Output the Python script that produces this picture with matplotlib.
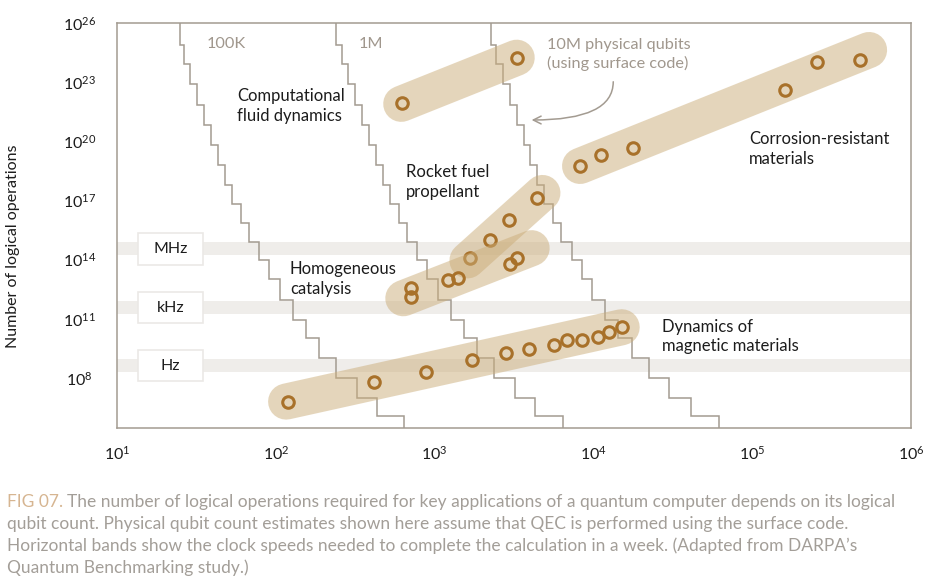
import matplotlib
matplotlib.use("Agg")
import matplotlib.pyplot as plt
import numpy as np
from matplotlib.patches import Rectangle
from matplotlib.transforms import blended_transform_factory

plt.rcParams["font.family"] = ["Lato", "DejaVu Sans"]
plt.rcParams["mathtext.fontset"] = "custom"
plt.rcParams["mathtext.rm"] = "Lato"
plt.rcParams["mathtext.it"] = "Lato:italic"
plt.rcParams["mathtext.bf"] = "Lato:bold"

# colours
LINE = "#a39b91"
CAPSULE = "#cbad79"
RING = "#a8712a"
BAND = "#efedea"
INK = "#1c1c1c"
GREY_TEXT = "#a0978d"

# log10(logical operations) where each staircase steps to the next code distance
step_ops_log = [24.9, 23.9, 22.9, 21.85, 20.85, 19.8, 18.8, 17.8, 16.8, 15.85,
                14.9, 14.0, 13.0, 11.95, 10.95, 10.0, 9.0, 8.0, 7.0, 6.05]

# log10(logical qubits) available on each step, per physical-qubit budget
qubits_100k_log = [1.397, 1.419, 1.460, 1.504, 1.548, 1.592, 1.633, 1.677, 1.724, 1.779, 1.829,
                   1.896, 1.959, 2.026, 2.106, 2.190, 2.274, 2.379, 2.509, 2.639, 2.807]
qubits_1m_log = [2.380, 2.414, 2.455, 2.499, 2.543, 2.587, 2.628, 2.672, 2.719, 2.774, 2.824,
                 2.891, 2.954, 3.021, 3.101, 3.185, 3.269, 3.374, 3.504, 3.634, 3.808]
qubits_10m_log = [3.355, 3.387, 3.428, 3.472, 3.516, 3.560, 3.601, 3.645, 3.692, 3.747, 3.797,
                  3.864, 3.927, 3.994, 4.074, 4.158, 4.242, 4.347, 4.477, 4.612, 4.790]

# clock-speed bands (log10 operations in one week)
band_names = ["MHz", "kHz", "Hz"]
band_centers_log = [14.54, 11.56, 8.62]

# applications: log10(logical qubits), log10(logical operations)
cfd_x = [2.797, 3.517]
cfd_y = [21.93, 24.24]
corrosion_x = [3.916, 4.046, 4.247, 5.207, 5.406, 5.679]
corrosion_y = [18.75, 19.31, 19.65, 22.60, 24.04, 24.12]
rocket_x = [3.223, 3.349, 3.467, 3.643]
rocket_y = [14.07, 15.00, 16.01, 17.11]
catalysis_x = [2.849, 2.849, 3.086, 3.145, 3.475, 3.517]
catalysis_y = [12.55, 12.09, 12.97, 13.08, 13.78, 14.07]
magnetic_x = [2.075, 2.618, 2.944, 3.234, 3.450, 3.596, 3.752, 3.832, 3.930, 4.027, 4.100, 4.178]
magnetic_y = [6.80, 7.81, 8.29, 8.91, 9.25, 9.47, 9.67, 9.92, 9.92, 10.09, 10.32, 10.57]

# extent of each highlighted range (log10 start/end in x and y)
cfd_range_x, cfd_range_y = [2.790, 3.517], [21.90, 24.24]
corrosion_range_x, corrosion_range_y = [3.916, 5.736], [18.75, 24.63]
rocket_range_x, rocket_range_y = [3.207, 3.679], [13.96, 17.38]
catalysis_range_x, catalysis_range_y = [2.803, 3.611], [12.04, 14.58]
magnetic_range_x, magnetic_range_y = [2.065, 4.178], [6.80, 10.57]

Y_MIN_LOG = 5.46
Y_MAX_LOG = 26.0


def p10(v):
    return np.power(10.0, v)


def staircase(ax, qubits_log):
    """x is logical qubits, piecewise constant in number of operations."""
    bounds = [Y_MAX_LOG] + step_ops_log + [Y_MIN_LOG]
    xs, ys = [], []
    for i, q in enumerate(qubits_log):
        xs += [p10(q), p10(q)]
        ys += [p10(bounds[i]), p10(bounds[i + 1])]
    ax.plot(xs, ys, color=LINE, lw=1.1, zorder=2, solid_joinstyle="miter")


def application(ax, lx, ly, rx, ry, z):
    ax.plot(p10(np.array(rx)), p10(np.array(ry)), color=CAPSULE, alpha=0.5,
            lw=26, solid_capstyle="round", zorder=z)
    ax.plot(p10(np.array(lx)), p10(np.array(ly)), "o", mfc="none", mec=RING,
            ms=8.3, mew=2.2, zorder=z + 0.5)


fig = plt.figure(figsize=(9.3, 5.8), dpi=100)
ax = fig.add_axes([117 / 930, 152 / 580, 794 / 930, 405 / 580])
ax.set_xscale("log")
ax.set_yscale("log")
ax.set_xlim(p10(1.0), p10(6.0))
ax.set_ylim(p10(Y_MIN_LOG), p10(Y_MAX_LOG))

for s in ax.spines.values():
    s.set_color(LINE)
    s.set_linewidth(1.1)

# ticks
ax.set_xticks([p10(k) for k in range(1, 7)])
ax.set_xticklabels([r"$\mathregular{10^{%d}}$" % k for k in range(1, 7)])
ax.set_yticks([p10(k) for k in range(8, 27, 3)])
ax.set_yticklabels([r"$\mathregular{10^{%d}}$" % k for k in range(8, 27, 3)])
ax.minorticks_off()
ax.tick_params(axis="both", length=0, labelsize=11.5, colors=INK)
ax.tick_params(axis="y", pad=27)
ax.tick_params(axis="x", pad=12)
for lab in ax.get_yticklabels():
    lab.set_horizontalalignment("center")

# clock-speed bands with their boxed labels
box_tf = blended_transform_factory(ax.transAxes, ax.transData)
for name, c in zip(band_names, band_centers_log):
    ax.axhspan(p10(c - 0.33), p10(c + 0.33), color=BAND, lw=0, zorder=0.5)
    ax.add_patch(Rectangle((0.027, p10(c - 0.8)), 0.081, p10(c + 0.8) - p10(c - 0.8),
                           transform=box_tf, facecolor="white", edgecolor="#ebe9e6",
                           lw=1.2, zorder=1))
    ax.text(0.0675, p10(c), name, transform=box_tf, ha="center", va="center",
            fontsize=11.5, color=INK, zorder=1.5)

staircase(ax, qubits_100k_log)
staircase(ax, qubits_1m_log)
staircase(ax, qubits_10m_log)

application(ax, cfd_x, cfd_y, cfd_range_x, cfd_range_y, 3)
application(ax, corrosion_x, corrosion_y, corrosion_range_x, corrosion_range_y, 4)
application(ax, rocket_x, rocket_y, rocket_range_x, rocket_range_y, 5)
application(ax, catalysis_x, catalysis_y, catalysis_range_x, catalysis_range_y, 6)
application(ax, magnetic_x, magnetic_y, magnetic_range_x, magnetic_range_y, 7)

# labels
lbl = dict(fontsize=12, color=INK, va="center", ha="left", linespacing=1.3, zorder=10)
ax.text(p10(1.756), p10(21.79), "Computational\nfluid dynamics", **lbl)
ax.text(p10(2.820), p10(17.94), "Rocket fuel\npropellant", **lbl)
ax.text(p10(2.089), p10(13.02), "Homogeneous\ncatalysis", **lbl)
ax.text(p10(4.432), p10(10.10), "Dynamics of\nmagnetic materials", **lbl)
ax.text(p10(4.980), p10(19.61), "Corrosion-resistant\nmaterials", **lbl)

glbl = dict(lbl, color=GREY_TEXT, fontsize=11.7)
ax.text(p10(1.567), p10(24.94), "100K", **glbl)
ax.text(p10(2.524), p10(24.94), "1M", **glbl)
ax.text(p10(3.708), p10(24.40), "10M physical qubits\n(using surface code)", **glbl)

ax.annotate("", xy=(p10(3.611), p10(21.08)), xytext=(p10(4.125), p10(23.02)),
            arrowprops=dict(arrowstyle="->", color=LINE, lw=1.1, shrinkA=0, shrinkB=0,
                            connectionstyle="angle3,angleA=90,angleB=0",
                            mutation_scale=14),
            zorder=10)

fig.text(13 / 930, 1 - 246 / 580, "Number of logical operations", rotation=90,
         ha="center", va="center", fontsize=11.5, color=INK)

# caption
caption = [
    "The number of logical operations required for key applications of a quantum computer depends on its logical",
    "qubit count. Physical qubit count estimates shown here assume that QEC is performed using the surface code.",
    "Horizontal bands show the clock speeds needed to complete the calculation in a week. (Adapted from DARPA\u2019s",
    "Quantum Benchmarking study.)",
]
cap_fs = 12.5
renderer = fig.canvas.get_renderer()
tag = fig.text(7 / 930, 1 - 502 / 580, "FIG 07.", color="#d6b591", fontsize=cap_fs, va="center")
tag_end = tag.get_window_extent(renderer).x1 / fig.bbox.width
for i, line in enumerate(caption):
    x0 = tag_end + 4 / 930 if i == 0 else 7 / 930
    fig.text(x0, 1 - (502 + 22 * i) / 580, line, color="#a39e98", fontsize=cap_fs, va="center")

fig.savefig("out.png", dpi=100)
